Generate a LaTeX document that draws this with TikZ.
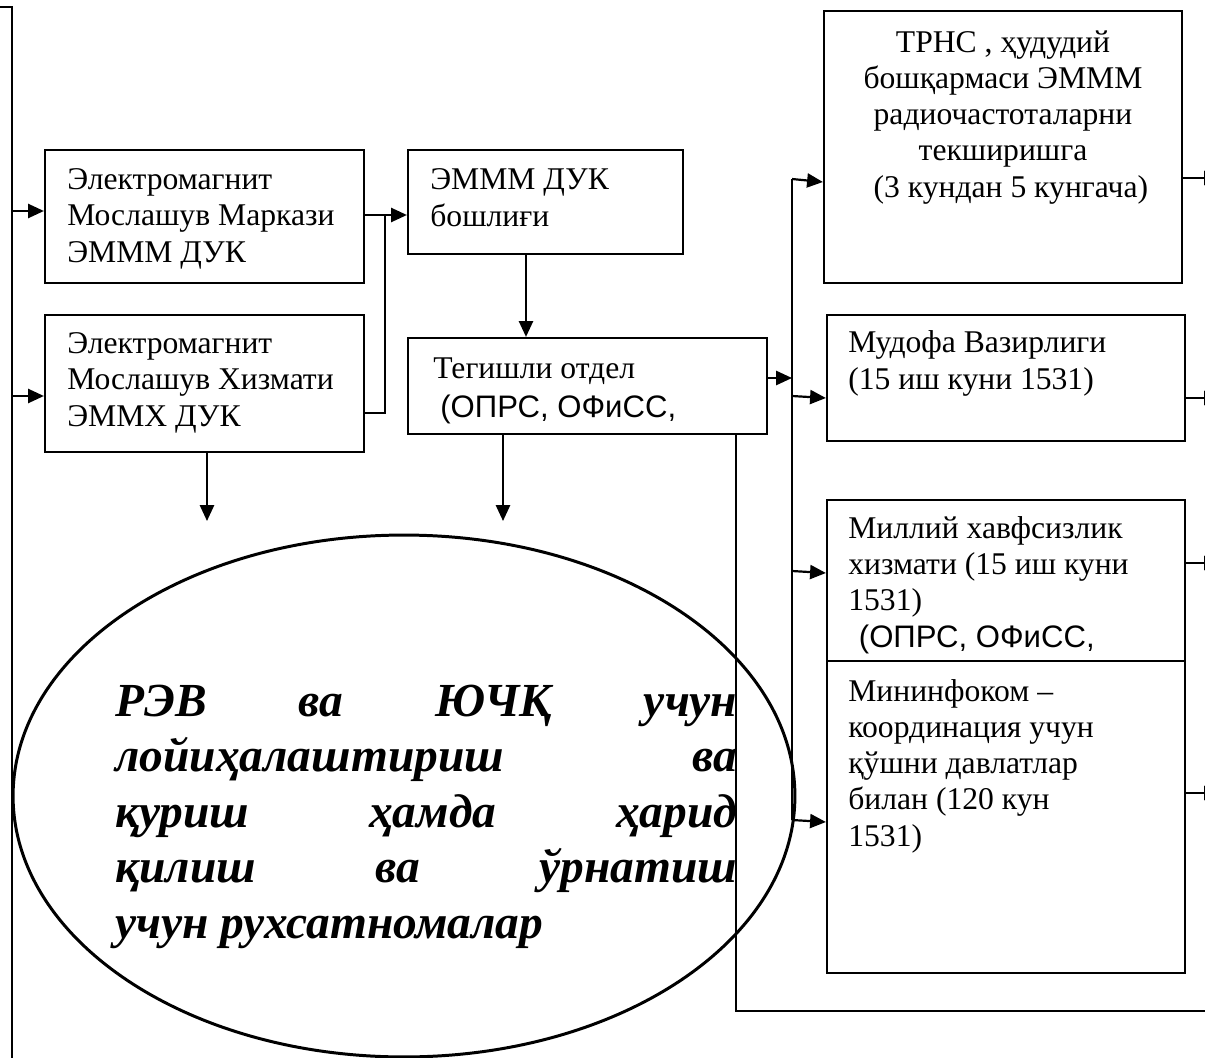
\documentclass[tikz,border=0pt]{standalone}
\usepackage{fontspec}
\setmainfont{Liberation Serif}
\newfontfamily\arial{Liberation Sans}
\usetikzlibrary{arrows.meta,shapes.geometric,fit}
\begin{document}
\begin{tikzpicture}[x=0.02cm,y=-0.02cm,
  box/.style={draw,line width=1.25pt,inner sep=0pt},
  txt/.style={inner sep=0pt,anchor=base west,align=left,font=\fontsize{18pt}{20.5pt}\selectfont},
  ctxt/.style={inner sep=0pt,anchor=base,align=center,font=\fontsize{18pt}{20.6pt}\selectfont},
  ln/.style={line width=1.25pt},
  arr/.style={line width=1.25pt,-{Triangle[length=9pt,width=8pt]}}]
\useasboundingbox (0,0) rectangle (1205,1058);

% boxes
\node[box,fit={(45,150)(364,283)}] (A) {};
\node[box,fit={(45,315)(364,452)}] (B) {};
\node[box,fit={(408,150)(683,254)}] (C) {};
\node[box,fit={(408,338)(767,434)}] (D) {};
\node[box,fit={(824,11)(1182,283)}] (E) {};
\node[box,fit={(827,315)(1185,441)}] (F) {};
\node[box,fit={(827,500)(1185,661)}] (G) {};

% texts (anchor = baseline of the last line)
\node[txt] (At) at (67,262) {Электромагнит\\Мослашув Маркази\\ЭММM ДУК};
\node[txt] (Bt) at (67,426) {Электромагнит\\Мослашув Хизмати\\ЭММХ ДУК};
\node[txt] (Ct) at (430,226) {ЭММM ДУК\\бошлиғи};
\node[txt] (Dt) at (433,417) {Тегишли отдел\\[1.5pt]\hspace*{4pt}{\arial\fontsize{17.7pt}{20.5pt}\selectfont (ОПРС, ОФиСС,}};
\node[ctxt] (Et) at (1003,197) {ТРНС , ҳудудий\\бошқармаси ЭММM\\радиочастоталарни\\текширишга\\\hspace*{9pt}(3 кундан 5 кунгача)};
\node[txt] (Ft) at (848,389) {Мудофа Вазирлиги\\(15 иш куни 1531)};
\node[txt] (Gt) at (848,647) {Миллий хавфсизлик\\хизмати (15 иш куни\\1531)\\\hspace*{6pt}{\arial\fontsize{17.7pt}{20.5pt}\selectfont (ОПРС, ОФиСС,}};
\node[box,fill=white,fit={(827,661)(1185,973)}] (H) {};
\node[txt] (Ht) at (848,846) {Мининфоком –\\координация учун\\қўшни давлатлар\\билан (120 кун\\1531)};

% ellipse
\node[draw,ellipse,line width=1.7pt,minimum width=15.64cm,minimum height=10.44cm,inner sep=0pt] (ell) at (404,796) {};
\node[inner sep=0pt,anchor=base west,align=left,font=\fontsize{27pt}{31.5pt}\selectfont\bfseries\itshape] (ellt) at (115,938)
 {\makebox[354pt][s]{РЭВ ва ЮЧҚ учун}\\
  \makebox[354pt][s]{лойиҳалаштириш ва}\\
  \makebox[354pt][s]{қуриш ҳамда ҳарид}\\
  \makebox[354pt][s]{қилиш ва ўрнатиш}\\
  учун рухсатномалар};

% left frame line
\coordinate (L0) at (0,7);
\coordinate (L1) at (12,7);
\coordinate (L2) at (12,1070);
\draw[ln,line width=1.1pt] (L0) -- (L1) -- (L2);
\coordinate (la) at (12,211);
\coordinate (lb) at (12,396);
\draw[arr] (la) -- (la -| A.west);
\draw[arr] (lb) -- (lb -| B.west);

% A,B -> C
\coordinate (j1) at (385,215);
\coordinate (j2) at (385,413);
\draw[arr] (j1 -| A.east) -- (j1 -| C.west);
\draw[ln] (j2 -| B.east) -- (j2) -- (j1);

% C -> D
\coordinate (c1) at (526,0);
\draw[arr] (c1 |- C.south) -- (c1 |- D.north);

% D -> bus
\coordinate (bT) at (792,179);
\coordinate (bB) at (792,820);
\coordinate (d1) at (792,378);
\draw[arr] (d1 -| D.east) -- (d1);
\draw[ln] (bT) -- (bB);
\coordinate (bF) at (792,396);
\coordinate (bG) at (792,571);
\draw[arr] (bT) -- ([yshift=-3*0.02cm]bT -| E.west);
\draw[arr] (bF) -- ([yshift=-2*0.02cm]bF -| F.west);
\draw[arr] (bG) -- ([yshift=-2*0.02cm]bG -| G.west);
\draw[arr] (bB) -- ([yshift=-2*0.02cm]bB -| H.west);

% right outgoing arrows (cut at page edge)
\coordinate (rE) at (1220,178);
\coordinate (rF) at (1220,398);
\coordinate (rG) at (1220,563);
\coordinate (rH) at (1220,793);
\draw[arr] (rE -| E.east) -- (rE);
\draw[arr] (rF -| F.east) -- (rF);
\draw[arr] (rG -| G.east) -- (rG);
\draw[arr] (rH -| H.east) -- (rH);

% D bottom -> right edge
\coordinate (k1) at (736,1011);
\coordinate (k2) at (1215,1011);
\draw[ln] (k1 |- D.south) -- (k1) -- (k2);

% down arrows
\coordinate (dB) at (207,521);
\coordinate (dD) at (503,521);
\draw[arr] (dB |- B.south) -- (dB);
\draw[arr] (dD |- D.south) -- (dD);
\end{tikzpicture}
\end{document}
